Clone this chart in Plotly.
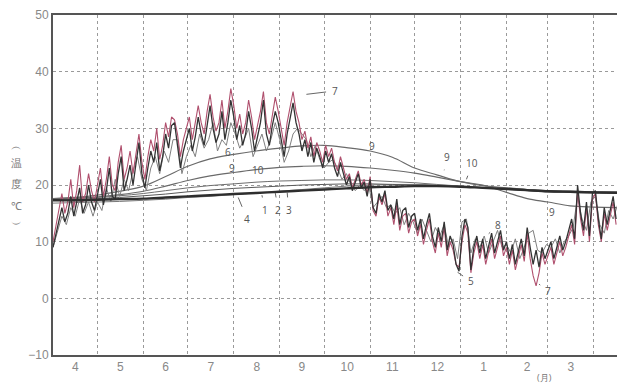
import numpy as np
import plotly.graph_objects as go

# ---------------- data ----------------
month_labels = ["4", "5", "6", "7", "8", "9", "10", "11", "12", "1", "2", "3"]
days_in_month = [30, 31, 30, 31, 31, 30, 31, 30, 31, 31, 28, 31]
y_ticks = [-10, 0, 10, 20, 30, 40, 50]

# curve 5 (dark), every 2 days from Apr 1
s5_dark = [
    9, 11.5, 14, 16, 13.5, 15, 18, 14.5, 17, 19.5, 15, 16.5, 20, 17, 15.5,            # Apr
    18, 21, 16.5, 19, 23, 18, 17.5, 22, 25, 19, 21, 23.5, 20, 24, 27.5, 22,           # May
    19.5, 23, 26, 24, 27.5, 22.5, 25, 29, 26.5, 30.5, 31, 27, 23, 26, 28,             # Jun
    30, 26, 28.5, 32, 29, 27, 31, 34, 30, 27.5, 29, 33, 28, 31, 35,                   # Jul
    32, 28, 30.5, 27, 29, 33, 30, 26, 28.5, 31, 35, 29, 27, 30.5, 33, 31,             # Aug
    28, 25, 29, 32, 34.5, 31, 29, 26, 28, 25, 27.5, 24, 26.5, 25, 23,                 # Sep
    26, 24, 25.5, 23, 21.5, 24, 22, 20, 21.5, 19, 20.5, 22, 19.5, 20.5, 18,           # Oct
    21, 16, 15, 18.5, 17, 19, 15.5, 16.5, 14, 17.5, 13, 15.5, 16, 12.5, 14.5,         # Nov
    15, 12, 14, 10.5, 13, 15, 11, 9, 12.5, 10, 13.5, 8.5, 11, 9.5, 6, 4.8,            # Dec
    11, 14, 12.5, 5, 9, 11, 8, 10.5, 7, 9.5, 11.5, 8, 10, 12, 8.5,                    # Jan
    10, 7, 9.5, 6, 8, 10.5, 7.5, 12.5, 9, 6, 8.5, 5.5, 9, 7,                          # Feb
    8.5, 10, 7, 9, 11, 8.5, 10, 12, 14, 10.5, 20, 15, 12, 17, 11, 18.5, 19, 14,
    10.5, 16, 13, 15.5, 18, 14,                                                      # Mar
]

# curve 7 (pink), every 2 days from Apr 1
s7_pink = [
    10, 13, 16, 18.5, 15, 17, 21, 16, 19, 23.5, 17, 18.5, 22, 19, 17,
    20, 23, 18, 21, 25, 20, 19, 24, 27, 21, 23, 26, 22, 26, 29, 24,
    21, 25, 28, 26, 30, 24.5, 27, 31, 28.5, 32, 31.5, 29, 25, 28, 30,
    32, 28, 31, 34, 31, 29, 33, 36, 32, 29.5, 31, 35, 30, 33, 37,
    34, 30, 32.5, 29, 31, 35, 32, 28, 30.5, 33, 36.5, 31, 29, 32.5, 35.5, 33,
    30, 27, 31, 34, 36.5, 33, 31, 28, 29.5, 26.5, 28.5, 25, 27.5, 26, 24,
    27, 25, 26.5, 24, 22.5, 25, 23, 21, 22, 19.5, 21, 22.5, 20, 21, 18.5,
    21.5, 15.5, 14.5, 18, 16.5, 18.5, 14.5, 16, 13, 16.5, 12, 14.5, 15, 11.5, 13.5,
    14, 11, 13, 9.5, 12, 14, 10, 8, 11.5, 9, 12.5, 7.5, 10, 8.5, 6, 5.5,
    10, 13, 11.5, 4.5, 8, 10, 7, 9.5, 6, 8.5, 10.5, 7, 9, 11, 7.5,
    9, 6, 8.5, 5, 7, 9.5, 6.5, 11.5, 7, 4, 2.2, 4.5, 8, 6,
    7.5, 9, 6, 8, 10, 7.5, 9, 11, 13, 9.5, 19, 14, 11, 16, 10, 17.5, 18.5, 13,
    10, 15, 12, 14.5, 17, 13,
]

# curve 8 (gray), every 3 days from Apr 1
s8_gray = [
    9, 12, 14.5, 13, 16, 14.5, 17.5, 15, 17, 14.5,
    17, 15.5, 19.5, 17, 21, 18, 21, 19, 22.5, 25, 21,
    19, 23, 25, 22, 26, 24, 28, 28, 22, 25,
    27, 25, 29, 26.5, 28, 31, 26, 28, 27, 31,
    29, 26.5, 28, 30, 25, 27, 29, 26, 28, 31,
    28, 24, 26, 29, 30, 29, 28, 25, 27, 24.5,
    23, 24, 24.5, 23, 21, 22, 20, 19, 20, 19,
    20, 16, 17, 18, 16, 16.5, 15, 16, 13, 15,
    13.5, 11.5, 14, 12, 10, 12.5, 11, 13, 9, 10.5, 7,
    13.5, 14, 8, 10.5, 9, 11, 8, 10, 12, 9,
    9.5, 8, 10.5, 7, 9, 11.5, 12, 8.5, 8, 9.5,
    9, 10.5, 8, 10, 11, 12.5, 18, 14, 12, 17, 18, 13, 11.5, 15.5, 14, 16.5,
]

# smooth curves sampled at half-month points (days from Apr 1)
smooth_days = [0, 15, 30, 45, 61, 76, 91, 106, 122, 137, 153, 168, 183,
               198, 214, 229, 244, 259, 275, 290, 306, 320, 334, 349, 365, 386]
c9 = [17.6, 17.8, 18.2, 18.9, 19.8, 21.5, 23.3, 24.6, 25.4, 26.0, 26.5, 26.9, 27.0,
      26.6, 26.0, 24.9, 23.0, 21.8, 20.6, 20.0, 18.7, 17.6, 17.0, 16.3, 16.1, 16.0]
c10 = [17.6, 17.7, 17.9, 18.3, 18.9, 19.8, 20.8, 21.6, 22.2, 22.7, 23.1, 23.3, 23.4,
       23.3, 23.0, 22.6, 22.1, 21.4, 20.6, 19.9, 19.5, 19.2, 19.0, 18.9, 18.8, 18.7]
c3 = [17.5, 17.6, 17.8, 18.1, 18.5, 19.0, 19.5, 19.9, 20.2, 20.5, 20.7, 20.8, 20.9,
      20.9, 20.8, 20.6, 20.4, 20.1, 19.8, 19.5, 19.2, 19.0, 18.8, 18.7, 18.6, 18.5]
c2 = [17.4, 17.5, 17.6, 17.8, 18.1, 18.4, 18.8, 19.1, 19.4, 19.6, 19.8, 20.0, 20.1,
      20.2, 20.2, 20.1, 20.0, 19.9, 19.7, 19.5, 19.3, 19.0, 18.8, 18.7, 18.6, 18.5]
c1 = [17.3, 17.3, 17.4, 17.5, 17.6, 17.8, 18.0, 18.2, 18.4, 18.6, 18.8, 19.0, 19.2,
      19.4, 19.6, 19.7, 19.8, 19.8, 19.7, 19.5, 19.3, 19.1, 18.9, 18.8, 18.7, 18.6]
c4 = [16.8, 16.9, 17.0, 17.1, 17.3, 17.5, 17.8, 18.0, 18.3, 18.6, 18.9, 19.2, 19.5,
      19.8, 20.0, 20.1, 20.1, 20.0, 19.8, 19.6, 19.4, 19.2, 19.0, 18.9, 18.8, 18.7]

y_title_chars = ["︵", "温", "度", "℃", "︶"]

# ---------------- figure ----------------
bounds = np.concatenate([[0], np.cumsum(days_in_month)])
centers = (bounds[:-1] + bounds[1:]) / 2
d2 = np.arange(len(s5_dark)) * 2
d2p = np.arange(len(s7_pink)) * 2
d3 = np.arange(len(s8_gray)) * 3

fig = go.Figure()

def smooth(y, color, width):
    fig.add_trace(go.Scatter(x=smooth_days, y=y, mode="lines",
                             line=dict(color=color, width=width, shape="spline"),
                             hoverinfo="skip", showlegend=False))

smooth(c4, "#7a7a7a", 1.0)
smooth(c3, "#6e6e6e", 1.0)
smooth(c2, "#5a5a5a", 1.0)
smooth(c10, "#6a6a6a", 1.2)
smooth(c9, "#6a6a6a", 1.2)

fig.add_trace(go.Scatter(x=d3, y=s8_gray, mode="lines",
                         line=dict(color="#808080", width=1.0),
                         hoverinfo="skip", showlegend=False))
fig.add_trace(go.Scatter(x=d2p, y=s7_pink, mode="lines",
                         line=dict(color="#b0506e", width=1.1),
                         hoverinfo="skip", showlegend=False))
fig.add_trace(go.Scatter(x=d2, y=s5_dark, mode="lines",
                         line=dict(color="#333333", width=1.3),
                         hoverinfo="skip", showlegend=False))
smooth(c1, "#2e2e2e", 2.4)

# curve labels
def lab(text, x, y, hx=None, hy=None):
    if hx is None:
        fig.add_annotation(x=x, y=y, text=text, showarrow=False,
                           font=dict(size=10, color="#555555"))
    else:
        fig.add_annotation(x=hx, y=hy, ax=x, ay=y, axref="x", ayref="y",
                           text=text, showarrow=True, arrowhead=0,
                           arrowwidth=1, arrowcolor="#666666", standoff=0,
                           startstandoff=4,
                           font=dict(size=10, color="#555555"))

lab("7", 190, 36.6, 171, 36.0)
lab("7", 334, 1.3, 328, 2.5)
lab("9", 215, 26.9)
lab("9", 266, 24.9, 264, 22.6)
lab("10", 283, 23.8, 279, 21.0)
lab("9", 337, 15.2)
lab("8", 300, 12.9, 294, 11.4)
lab("5", 282, 3.0, 273, 4.6)
lab("6", 118, 25.9)
lab("9", 121, 23.0)
lab("10", 138, 22.6)
lab("1", 143, 15.6, 141, 18.2)
lab("2", 152, 15.6, 150, 18.6)
lab("3", 159, 15.6, 158, 18.8)
lab("4", 131, 14.0, 125, 17.8)

# vertical y-axis title (stacked characters)
for ch, yv in zip(y_title_chars, [27.0, 23.9, 20.2, 16.4, 13.2]):
    fig.add_annotation(xref="paper", x=-0.077, y=yv, text=ch, showarrow=False,
                       font=dict(size=11, color="#777777"))
fig.add_annotation(x=332, y=-10, yshift=-22, text="(月)", showarrow=False,
                   font=dict(size=9, color="#777777"))

fig.update_xaxes(range=[0, 386], tickvals=centers, ticktext=month_labels,
                 showgrid=False, ticks="", zeroline=False, automargin=False,
                 showline=True, linecolor="#555555", linewidth=2, mirror=True,
                 tickfont=dict(family="Liberation Sans", size=12, color="#888888"),
                 minor=dict(tickvals=bounds[1:], showgrid=True,
                            gridcolor="#9a9a9a", gridwidth=1, griddash="dot",
                            ticks=""))
fig.update_yaxes(range=[-10, 50], tickvals=y_ticks, showgrid=True,
                 gridcolor="#9a9a9a", gridwidth=1, griddash="dot",
                 zeroline=False, showline=True, linecolor="#555555", linewidth=2,
                 ticks="", automargin=False,
                 tickfont=dict(family="Liberation Sans", size=12, color="#888888"))

fig.update_layout(width=617, height=377,
                  margin=dict(l=45, r=0, t=7, b=30),
                  paper_bgcolor="white", plot_bgcolor="white")

fig.write_html("out.html")
